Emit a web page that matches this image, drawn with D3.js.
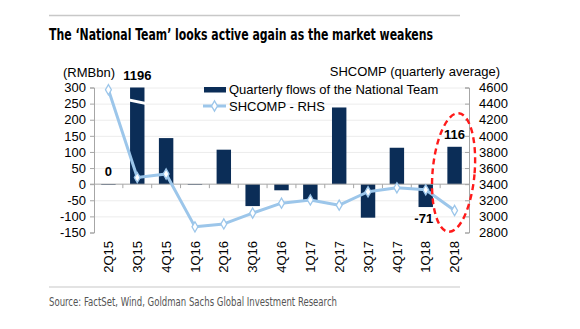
<!DOCTYPE html>
<html>
<head>
<meta charset="utf-8">
<script src="https://cdn.jsdelivr.net/npm/d3@7"></script>
<style>
  html, body { margin: 0; padding: 0; background: #fff; }
  svg { display: block; }
  .tick text { font-family: Arial, "Liberation Sans", sans-serif; font-size: 13px; fill: #000; }
</style>
</head>
<body>
<svg id="chart" width="580" height="329"></svg>
<script>
// Quarters on the x axis
const quarters = ["2Q15","3Q15","4Q15","1Q16","2Q16","3Q16","4Q16","1Q17","2Q17","3Q17","4Q17","1Q18","2Q18"];
// Quarterly net flows of the National Team, RMB bn (left axis)
const flows = [0, 1196, 143, -2, 107, -68, -19, -50, 238, -104, 113, -71, 116];
// SHCOMP quarterly average (right axis)
const shcomp = [4572, 3482, 3526, 2870, 2906, 3041, 3164, 3204, 3139, 3306, 3355, 3330, 3073];
// Quarters whose flow value is printed on the chart
const labelled = ["2Q15", "3Q15", "1Q18", "2Q18"];
// Axis ticks
const leftTicks = [-150, -100, -50, 0, 50, 100, 150, 200, 250, 300];
const rightTicks = [2800, 3000, 3200, 3400, 3600, 3800, 4000, 4200, 4400, 4600];

const barColor = "#0b2d57";
const lineColor = "#9cc6ea";
const axisColor = "#a6a6a6";
const gridColor = "#ececec";
const font = "Arial, 'Liberation Sans', sans-serif";
const narrow = "'Liberation Sans Narrow', 'DejaVu Sans Condensed', Arial, sans-serif";
const plain = d => String(d);

const svg = d3.select("#chart");

const plotL = 94, plotR = 469, plotT = 87.5, plotB = 232.5;

const x = d3.scaleBand().domain(quarters).range([plotL, plotR]).paddingInner(0.5).paddingOuter(0.25);
const yL = d3.scaleLinear().domain([-150, 300]).range([plotB, plotT]);
const yR = d3.scaleLinear().domain([2800, 4600]).range([plotB, plotT]);

// Header and footer rules
svg.append("line").attr("x1", 49).attr("x2", 460).attr("y1", 15.5).attr("y2", 15.5)
  .attr("stroke", "#c8c8c8").attr("stroke-width", 1.5);
svg.append("line").attr("x1", 49).attr("x2", 460).attr("y1", 287).attr("y2", 287)
  .attr("stroke", "#c8c8c8").attr("stroke-width", 1.2);

svg.append("text").attr("x", 49).attr("y", 40)
  .attr("font-family", narrow).attr("font-weight", "bold").attr("font-size", 16)
  .attr("textLength", 384).attr("lengthAdjust", "spacingAndGlyphs")
  .text("The \u2018National Team\u2019 looks active again as the market weakens");

svg.append("text").attr("x", 49).attr("y", 306)
  .attr("font-family", narrow).attr("font-size", 12).attr("fill", "#555")
  .attr("textLength", 288).attr("lengthAdjust", "spacingAndGlyphs")
  .text("Source: FactSet, Wind, Goldman Sachs Global Investment Research");

// Gridlines
svg.append("g").selectAll("line").data(leftTicks.filter(d => d !== 0 && d !== -150)).join("line")
  .attr("x1", plotL).attr("x2", plotR)
  .attr("y1", d => yL(d) + 0.5).attr("y2", d => yL(d) + 0.5)
  .attr("stroke", gridColor).attr("stroke-width", 1);

// Left axis
const gL = svg.append("g").attr("transform", `translate(${plotL},0)`)
  .call(d3.axisLeft(yL).tickValues(leftTicks).tickFormat(plain).tickSize(4).tickPadding(4));
gL.selectAll("path, line").attr("stroke", axisColor);

// Right axis
const gR = svg.append("g").attr("transform", `translate(${plotR},0)`)
  .call(d3.axisRight(yR).tickValues(rightTicks).tickFormat(plain).tickSize(-4).tickPadding(10));
gR.selectAll("path, line").attr("stroke", axisColor);

// Axis titles
svg.append("text").attr("x", 63).attr("y", 77).attr("font-family", font).attr("font-size", 13)
  .text("(RMBbn)");
svg.append("text").attr("x", 500).attr("y", 76).attr("text-anchor", "end")
  .attr("font-family", font).attr("font-size", 13)
  .text("SHCOMP (quarterly average)");

// Bars (values above the axis top are cut at the top of the plot)
const barTop = d => yL(Math.min(Math.max(d, 0), 300));
const barBot = d => yL(Math.min(d, 0));
svg.append("g").selectAll("rect").data(quarters).join("rect")
  .attr("x", (q) => x(q))
  .attr("width", x.bandwidth())
  .attr("y", (q, i) => barTop(flows[i]))
  .attr("height", (q, i) => Math.max(barBot(flows[i]) - barTop(flows[i]), 0.8))
  .attr("fill", barColor);

// Axis break on the bars that run past the top of the scale
quarters.forEach((q, i) => {
  if (flows[i] > 300) {
    const x0 = x(q) - 1, x1 = x(q) + x.bandwidth() + 1.5;
    const y0 = yL(300) + 11;
    svg.append("path")
      .attr("d", `M${x0},${y0} L${x1},${y0 + 3.5} L${x1},${y0 + 6.5} L${x0},${y0 + 3} Z`)
      .attr("fill", "#fff");
  }
});

// X axis along zero, ticks at the band edges
const zeroY = yL(0);
svg.append("line").attr("x1", plotL - 4).attr("x2", plotR).attr("y1", zeroY).attr("y2", zeroY)
  .attr("stroke", axisColor);
const step = x.step();
svg.append("g").selectAll("line").data(quarters.slice(1)).join("line")
  .attr("x1", q => x(q) - step * 0.25).attr("x2", q => x(q) - step * 0.25)
  .attr("y1", zeroY).attr("y2", zeroY + 4)
  .attr("stroke", axisColor);

// Category labels
svg.append("g").selectAll("text").data(quarters).join("text")
  .attr("transform", q => `translate(${x(q) + x.bandwidth() / 2},241) rotate(-90)`)
  .attr("text-anchor", "end").attr("dy", "0.36em")
  .attr("font-family", font).attr("font-size", 13)
  .text(q => q);

// SHCOMP line
const cx = q => x(q) + x.bandwidth() / 2;
svg.append("path")
  .datum(shcomp)
  .attr("d", d3.line().x((d, i) => cx(quarters[i])).y(d => yR(d)))
  .attr("fill", "none").attr("stroke", lineColor).attr("stroke-width", 3)
  .attr("stroke-linejoin", "round");
const diamond = d3.symbol().type(d3.symbolDiamond).size(30);
svg.append("g").selectAll("path").data(shcomp).join("path")
  .attr("transform", (d, i) => `translate(${cx(quarters[i])},${yR(d)})`)
  .attr("d", diamond)
  .attr("fill", "#fff").attr("stroke", lineColor).attr("stroke-width", 1.3);

// Value labels
svg.append("g").selectAll("text").data(labelled).join("text")
  .attr("x", q => cx(q))
  .attr("y", q => {
    const v = flows[quarters.indexOf(q)];
    return v < 0 ? barBot(v) + 16 : barTop(v) - 8;
  })
  .attr("dx", q => flows[quarters.indexOf(q)] < 0 ? -2 : 0)
  .attr("text-anchor", "middle")
  .attr("font-family", font).attr("font-weight", "bold").attr("font-size", 13)
  .text(q => flows[quarters.indexOf(q)]);

// Legend
const lg = svg.append("g");
lg.append("rect").attr("x", 204).attr("y", 87).attr("width", 22).attr("height", 5.5).attr("fill", barColor);
lg.append("text").attr("x", 229).attr("y", 93.5).attr("font-family", font).attr("font-size", 13)
  .text("Quarterly flows of the National Team");
lg.append("line").attr("x1", 203).attr("x2", 226).attr("y1", 106).attr("y2", 106)
  .attr("stroke", lineColor).attr("stroke-width", 3);
lg.append("path").attr("transform", "translate(214.5,106)").attr("d", diamond)
  .attr("fill", "#fff").attr("stroke", lineColor).attr("stroke-width", 1.3);
lg.append("text").attr("x", 229).attr("y", 110.5).attr("font-family", font).attr("font-size", 13)
  .text("SHCOMP - RHS");

// Highlight around the latest quarter
svg.append("ellipse")
  .attr("transform", `translate(${cx("2Q18") - 1},172.5) rotate(5)`)
  .attr("rx", 21).attr("ry", 59.5)
  .attr("fill", "none").attr("stroke", "#ff1a1a").attr("stroke-width", 2.4)
  .attr("stroke-dasharray", "6,4");
</script>
</body>
</html>
